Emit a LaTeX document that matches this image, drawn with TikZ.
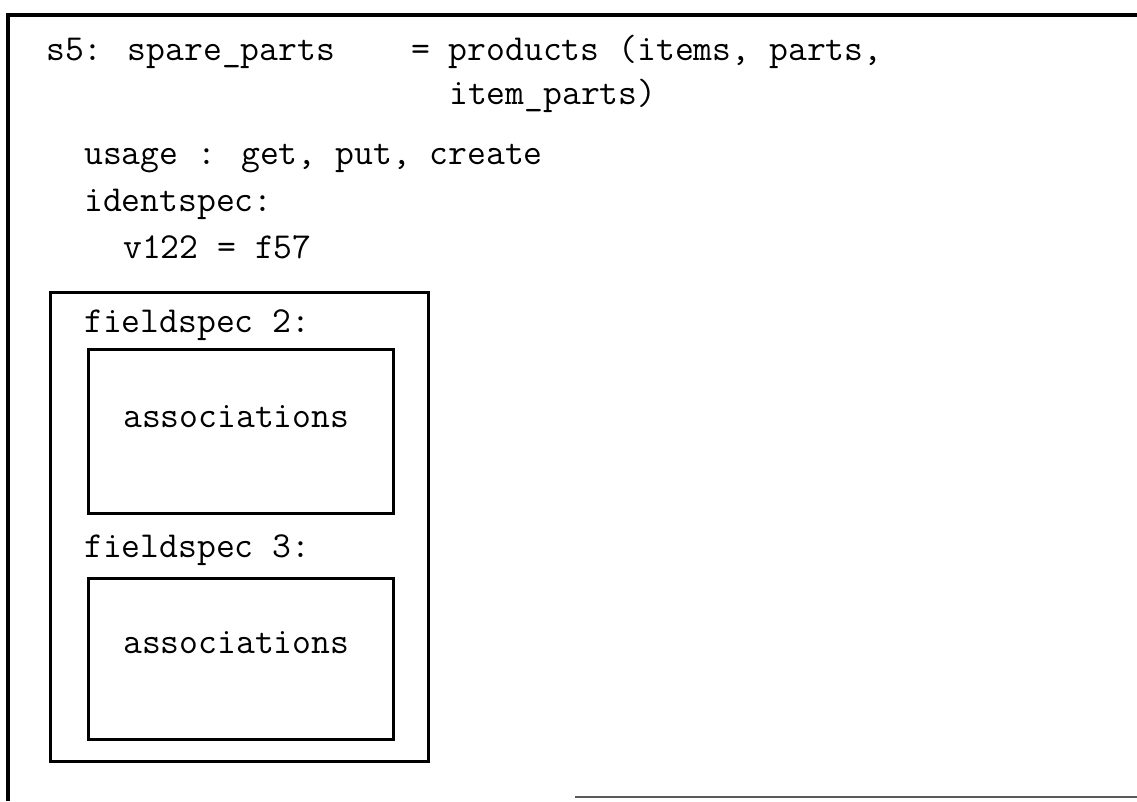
\documentclass[tikz,border=0pt]{standalone}
\usepackage{tikz}
\usetikzlibrary{positioning}
\tikzset{
  txt/.style={anchor=base west, inner sep=0pt,
    font=\fontsize{36.6}{44}\selectfont\ttfamily},
  frameline/.style={line width=3.5pt, color=black},
  specbox/.style={rectangle, draw=black, line width=3pt,
    anchor=north west, inner sep=0pt},
  assocbox/.style={specbox, minimum width=305pt}
}

\begin{document}
\begin{tikzpicture}[x=1pt, y=-1pt]
  \useasboundingbox (0,0) rectangle (1137,801);

  % page frame (open on the right)
  \coordinate (ftl) at (8,15);
  \coordinate (ftr) at (1137,15);
  \coordinate (fbl) at (8,801);
  \coordinate (fbm) at (575,797);
  \coordinate (fbr) at (1137,797);
  \draw[frameline] (ftr) -- (ftl) -- (fbl);
  \draw[frameline, line width=2.5pt, black!65] (fbm) -- (fbr);

  % header lines
  \node[txt] (s5) at (46,60) {s5: spare\_parts};
  \node[txt] (prod) at (411,60) {= products (items, parts,};
  \node[txt] (prodb) at (449,104) {item\_parts)};
  \node[txt] (usage) at (84,164) {usage : get, put, create};
  \node[txt] (ident) at (84,211) {identspec:};
  \node[txt] (v122) at (123,258) {v122 = f57};

  % field specs
  \node[specbox, minimum width=378pt, minimum height=469pt] (fields) at (49,291) {};
  \node[txt] (fs2) at (84,332) {fieldspec 2:};
  \node[assocbox, minimum height=164pt] (assoc2) at (87,348) {};
  \node[txt] (assoc2txt) at (123,427) {associations};
  \node[txt] (fs3) at (84,557) {fieldspec 3:};
  \node[assocbox, minimum height=161pt] (assoc3) at (87,577) {};
  \node[txt] (assoc3txt) at (123,653) {associations};
\end{tikzpicture}
\end{document}
